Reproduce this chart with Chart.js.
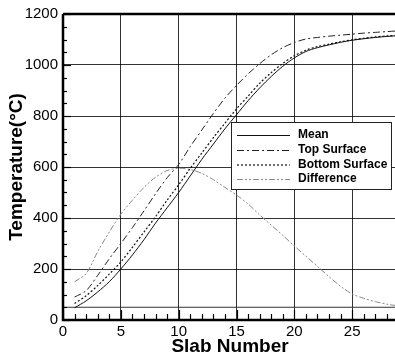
<!DOCTYPE html>
<html>
<head>
<meta charset="utf-8">
<script src="https://cdn.jsdelivr.net/npm/chart.js@4/dist/chart.umd.min.js"></script>
<style>
  html, body { margin: 0; padding: 0; background: #fff; }
  #wrap { width: 395px; height: 359px; }
</style>
</head>
<body>
<div id="wrap"><canvas id="chart-temp"></canvas></div>
<script>
const slabs = [1, 2, 3, 4, 5, 6, 7, 8, 9, 10, 11, 12, 13, 14, 15, 16, 17, 18, 19, 20, 21, 22, 23, 24, 25, 26, 27, 28, 29];
const meanTemp = [48, 75, 110, 150, 200, 255, 315, 380, 440, 500, 565, 630, 690, 750, 805, 860, 910, 955, 995, 1028, 1053, 1068, 1079, 1089, 1097, 1103, 1108, 1112, 1115];
const topTemp = [90, 115, 175, 240, 300, 362, 428, 495, 558, 610, 680, 745, 810, 870, 920, 965, 1005, 1040, 1068, 1088, 1102, 1108, 1113, 1117, 1121, 1125, 1128, 1131, 1134];
const bottomTemp = [65, 95, 135, 180, 228, 285, 345, 405, 470, 530, 595, 655, 715, 772, 828, 878, 928, 970, 1006, 1036, 1058, 1072, 1082, 1091, 1099, 1105, 1110, 1114, 1117];
const diffTemp = [150, 182, 268, 345, 415, 470, 520, 560, 586, 595, 590, 575, 550, 520, 490, 455, 412, 372, 332, 290, 250, 210, 170, 132, 102, 85, 72, 62, 55];
const refLevel = 50;
const seriesNames = ["Mean", "Top Surface", "Bottom Surface", "Difference"];
const xTicks = [0, 5, 10, 15, 20, 25];
const yTicks = [0, 200, 400, 600, 800, 1000, 1200];

const ctx = document.getElementById("chart-temp");

function pts(ys) {
    return slabs.map((s, i) => ({ x: s, y: ys[i] }));
}

const styles = [
    { color: "#111", dash: [], width: 1 },
    { color: "#222", dash: [7, 3, 2, 3], width: 1 },
    { color: "#111", dash: [2, 2], width: 1.2 },
    { color: "#888", dash: [6, 2, 2, 2, 2, 2], width: 1 },
];

const seriesData = [meanTemp, topTemp, bottomTemp, diffTemp];

const datasets = seriesData.map((d, i) => ({
    label: seriesNames[i],
    data: pts(d),
    borderColor: styles[i].color,
    borderDash: styles[i].dash,
    borderWidth: styles[i].width,
    pointRadius: 0,
    tension: 0.3,
    fill: false,
}));

datasets.push({
    label: "ref",
    data: [{ x: 0, y: refLevel }, { x: 30, y: refLevel }],
    borderColor: "#333",
    borderWidth: 1,
    pointRadius: 0,
    fill: false,
});

// minor ticks, frame, titles and the boxed legend
const extras = {
    id: "extras",
    afterDraw(chart) {
        const c = chart.ctx;
        const a = chart.chartArea;
        const xs = chart.scales.x;
        const ys = chart.scales.y;
        c.save();
        c.strokeStyle = "#000";
        c.lineWidth = 1.2;
        // x minor ticks (inward)
        for (let v = 0; v <= 28; v++) {
            const px = Math.round(xs.getPixelForValue(v)) + 0.5;
            const len = v % 5 === 0 ? 10 : 6;
            c.beginPath();
            c.moveTo(px, a.bottom);
            c.lineTo(px, a.bottom - len);
            c.stroke();
        }
        // y minor ticks (inward)
        for (let v = 0; v <= 1200; v += 50) {
            const py = Math.round(ys.getPixelForValue(v)) + 0.5;
            const len = v % 200 === 0 ? 8 : 4;
            c.beginPath();
            c.moveTo(a.left, py);
            c.lineTo(a.left + len, py);
            c.stroke();
        }
        // frame
        c.lineWidth = 2.5;
        c.beginPath();
        c.moveTo(a.left, a.top);
        c.lineTo(a.right, a.top);
        c.stroke();
        c.beginPath();
        c.moveTo(a.left, a.top);
        c.lineTo(a.left, a.bottom);
        c.lineTo(a.right, a.bottom);
        c.stroke();

        // titles
        c.fillStyle = "#000";
        c.font = "bold 19px 'Liberation Sans', Arial, sans-serif";
        c.textAlign = "center";
        c.textBaseline = "middle";
        c.fillText("Slab Number", 230, 347);
        c.save();
        c.translate(17, 167);
        c.rotate(-Math.PI / 2);
        c.fillText("Temperature(\u00B0C)", 0, 0);
        c.restore();

        // legend box
        const bx = 231, by = 122, bw = 160, bh = 67;
        c.fillStyle = "#fff";
        c.fillRect(bx, by, bw, bh);
        c.lineWidth = 1;
        c.strokeStyle = "#222";
        c.strokeRect(bx + 0.5, by + 0.5, bw, bh);
        c.font = "bold 12px 'Liberation Sans', Arial, sans-serif";
        c.textAlign = "left";
        const rowY = [135, 150, 164.5, 179];
        seriesNames.forEach((name, i) => {
            c.strokeStyle = styles[i].color;
            c.lineWidth = styles[i].width;
            c.setLineDash(styles[i].dash);
            c.beginPath();
            c.moveTo(237, rowY[i] + 0.5);
            c.lineTo(290, rowY[i] + 0.5);
            c.stroke();
            c.setLineDash([]);
            c.fillStyle = "#000";
            c.fillText(name, 298, rowY[i]);
        });
        c.restore();
    },
};

const tickFont = { family: "'Liberation Sans', Arial, sans-serif", size: 15 };

const configTemp = {
    type: "line",
    data: { datasets: datasets },
    options: {
        responsive: false,
        animation: false,
        layout: { padding: { top: 14, right: 0, left: 0, bottom: 0 } },
        plugins: {
            legend: { display: false },
            tooltip: { enabled: false },
        },
        scales: {
            x: {
                type: "linear",
                min: 0,
                max: 28.7,
                afterBuildTicks: (s) => { s.ticks = xTicks.map((v) => ({ value: v })); },
                afterFit: (s) => { s.height = 39; },
                grid: { color: "rgba(0,0,0,0.8)", lineWidth: 1, drawTicks: false },
                border: { display: false },
                ticks: { color: "#000", padding: 3, font: tickFont, callback: (v) => String(v) },
            },
            y: {
                min: 0,
                max: 1200,
                afterBuildTicks: (s) => { s.ticks = yTicks.map((v) => ({ value: v })); },
                afterFit: (s) => { s.width = 63; },
                grid: { color: "rgba(0,0,0,0.8)", lineWidth: 1, drawTicks: false },
                border: { display: false },
                ticks: { color: "#000", padding: 5, font: tickFont, callback: (v) => String(v) },
            },
        },
    },
    plugins: [extras],
};

ctx.width = 395;
ctx.height = 359;
new Chart(ctx, configTemp);
</script>
</body>
</html>
